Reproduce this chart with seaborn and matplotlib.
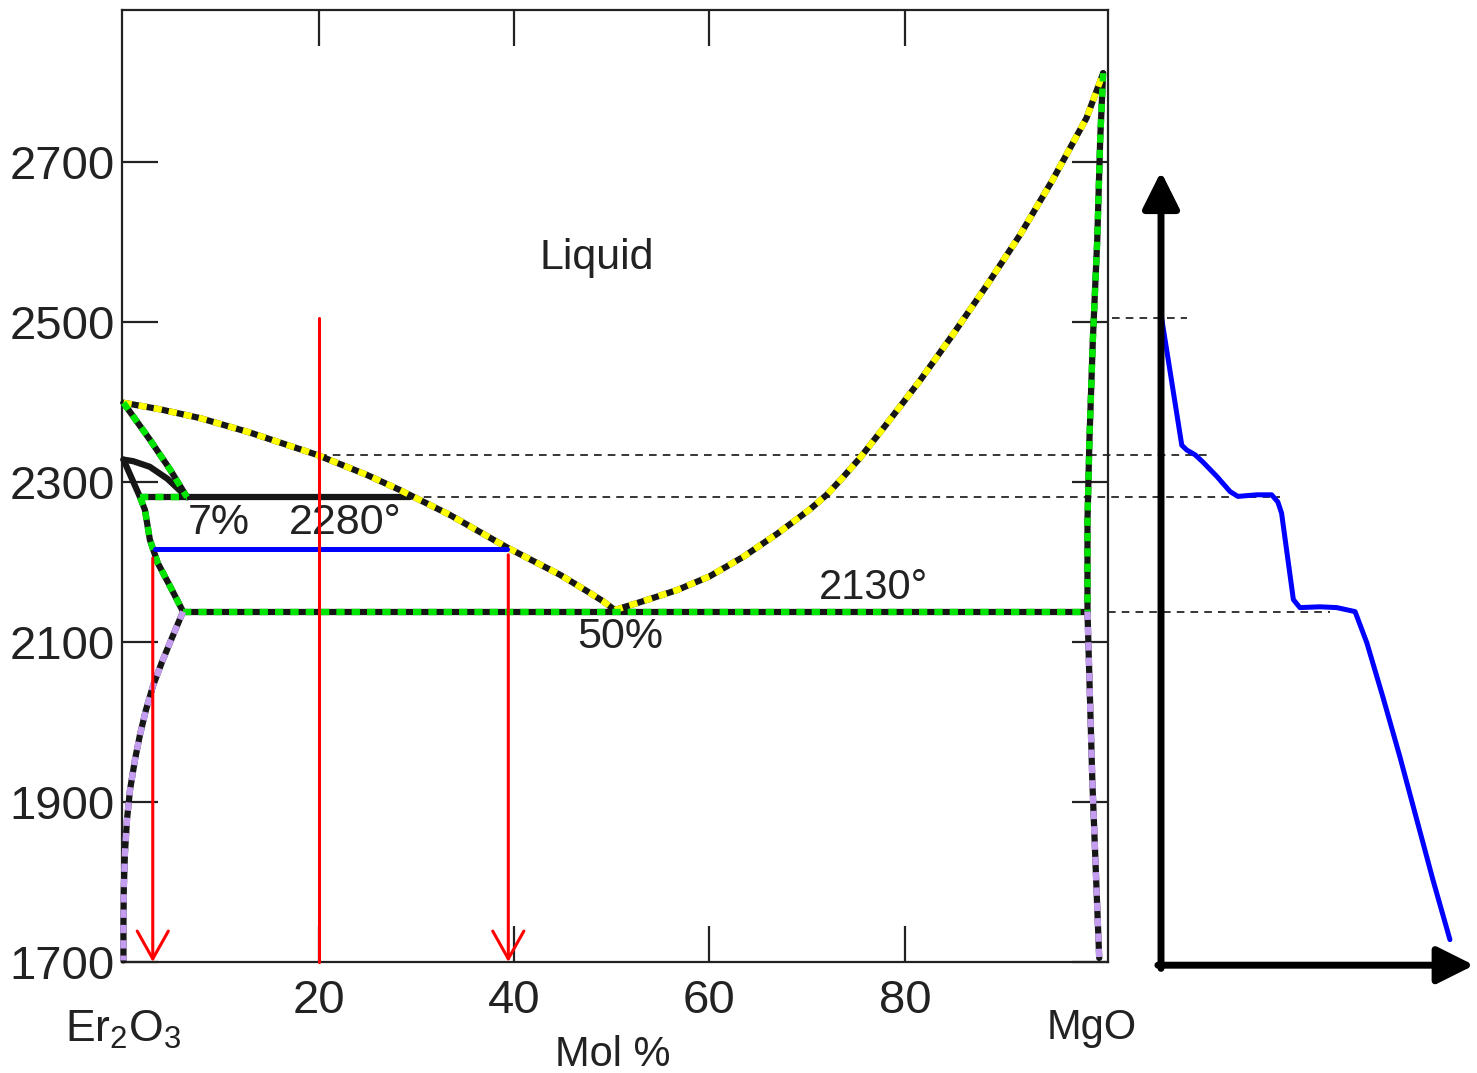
import numpy as np
import matplotlib.pyplot as plt
import seaborn as sns

sns.set_theme(style="white")
plt.rcParams['font.family'] = ['Liberation Sans', 'DejaVu Sans']
plt.rcParams['mathtext.default'] = 'regular'

# --- phase boundaries, x = mol % MgO, t = temperature (deg C) ---
liq_left_x = [0.0, 3.7, 7.8, 12.9, 19.8, 24.9, 28.3, 33.4, 39.3, 44.7, 47.4, 49.1, 50.3]
liq_left_t = [2399, 2391, 2380, 2362, 2334, 2309, 2290, 2259, 2218, 2184, 2164, 2151, 2140]
liq_right_x = [50.3, 53.2, 56.7, 60.0, 63.4, 66.9, 70.3, 72.0, 73.6, 75.4, 78.1, 81.5,
               84.9, 88.4, 91.8, 95.1, 98.6, 100.3]
liq_right_t = [2140, 2151, 2165, 2182, 2206, 2235, 2266, 2284, 2305, 2330, 2372, 2426,
               2484, 2546, 2609, 2677, 2755, 2811]
sol_mgo_x = [100.3, 100.0, 99.7, 99.25, 98.9, 98.7, 98.7]
sol_mgo_t = [2811, 2728, 2603, 2478, 2353, 2253, 2138]
solv_mgo_x = [98.7, 99.2, 99.9]
solv_mgo_t = [2138, 1925, 1705]

sol_er_x = [0.0, 2.7, 4.8, 6.5]
sol_er_t = [2399, 2353, 2315, 2281]
lens_x = [0.0, 1.0, 2.7, 4.5, 6.5]
lens_t = [2328, 2326, 2319, 2304, 2281]
trans_x = [0.0, 1.7]
trans_t = [2328, 2281]
solv_er_hi_x = [1.7, 2.2, 2.7, 3.5, 4.8, 6.1]
solv_er_hi_t = [2281, 2265, 2228, 2199, 2169, 2138]
solv_er_lo_x = [6.1, 4.96, 3.94, 3.02, 2.3, 1.69, 1.18, 0.67, 0.36, 0.15, 0.03, 0.0, 0.0]
solv_er_lo_t = [2138, 2105, 2075, 2045, 2015, 1984, 1953, 1915, 1878, 1836, 1790, 1746, 1702]

peritectic_t = 2281
peritectic_x = [1.7, 29.3]
peritectic_green_x = [1.7, 6.5]
eutectic_t = 2138
eutectic_x = [6.1, 98.7]

# lever rule construction
tie_t = 2216
tie_x = [3.2, 39.3]
comp_x = 20.0
comp_t = [2505, 1700]
arrow_x = [3.0, 39.4]
arrow_t0 = [2205, 2209]

# dashed guide lines to the cooling curve
guide_t = [2505, 2334, 2281, 2138]
guide_x0 = [101.2, 20.0, 29.3, 100.8]
guide_x1 = [108.9, 111.2, 118.4, 123.5]

# cooling curve (time in arbitrary units)
cool_time = [0.02, 0.67, 0.83, 1.10, 1.35, 1.80, 2.23, 2.48, 3.09, 3.57, 3.77, 3.89,
             4.27, 4.48, 5.13, 5.67, 6.26, 6.64, 7.16, 7.71, 8.25, 8.77, 9.32]
cool_temp = [2505, 2346, 2340, 2334, 2325, 2307, 2288, 2282, 2284, 2284, 2275, 2261,
             2153, 2143, 2144, 2143, 2138, 2099, 2031, 1956, 1878, 1803, 1728]

BLACK = '#161616'
YELLOW = '#ffff00'
GREEN = '#00e600'
PURPLE = '#c49cf0'
RED = '#ff0000'
BLUE = '#0000ff'
DOT = (0, (1.3, 1.1))


def trace(ax, xs, ys, **kw):
    sns.lineplot(x=xs, y=ys, ax=ax, sort=False, estimator=None, clip_on=False, **kw)


fig = plt.figure(figsize=(14.77, 10.73), dpi=100)
ax = fig.add_axes([122 / 1477, 111 / 1073, 986 / 1477, 952 / 1073])

# black boundary lines
for xs, ys in [(liq_left_x, liq_left_t), (liq_right_x, liq_right_t), (sol_mgo_x, sol_mgo_t),
               (solv_mgo_x, solv_mgo_t), (sol_er_x, sol_er_t), (lens_x, lens_t),
               (trans_x, trans_t), (solv_er_hi_x, solv_er_hi_t), (solv_er_lo_x, solv_er_lo_t),
               (peritectic_x, [peritectic_t] * 2), (eutectic_x, [eutectic_t] * 2)]:
    trace(ax, xs, ys, color=BLACK, lw=4.5, zorder=3)

# coloured dotted overlays
for xs, ys, c in [(liq_left_x, liq_left_t, YELLOW), (liq_right_x, liq_right_t, YELLOW),
                  (sol_mgo_x, sol_mgo_t, GREEN), (sol_er_x, sol_er_t, GREEN),
                  (solv_er_hi_x, solv_er_hi_t, GREEN), (peritectic_green_x, [peritectic_t] * 2, GREEN),
                  (eutectic_x, [eutectic_t] * 2, GREEN),
                  (solv_mgo_x, solv_mgo_t, PURPLE), (solv_er_lo_x, solv_er_lo_t, PURPLE)]:
    trace(ax, xs, ys, color=c, lw=4.6, linestyle=DOT, dash_capstyle='butt', zorder=4)

# dashed guides
for t, x0, x1 in zip(guide_t, guide_x0, guide_x1):
    trace(ax, [x0, x1], [t, t], color='black', lw=1.1, linestyle=(0, (5, 4)), zorder=2)

# tie line and composition lines
trace(ax, tie_x, [tie_t] * 2, color=BLUE, lw=3.6, zorder=5)
trace(ax, [comp_x, comp_x], comp_t, color=RED, lw=2.2, zorder=6)
for x, t0 in zip(arrow_x, arrow_t0):
    ax.annotate('', xy=(x, 1700), xytext=(x, t0), annotation_clip=False, zorder=6,
                arrowprops=dict(arrowstyle='->,head_length=0.5,head_width=0.28', color=RED,
                                lw=2.2, mutation_scale=40, shrinkA=0, shrinkB=0))

ax.set_xlim(-0.15, 100.8)
ax.set_ylim(1700, 2890)
ax.set_xticks([20, 40, 60, 80])
ax.set_yticks([1700, 1900, 2100, 2300, 2500, 2700])
ax.tick_params(direction='in', length=26, width=1.6, color='#222222', labelsize=34,
               bottom=True, left=True, top=True, right=True, labelcolor='#222222')
ax.tick_params(axis='x', pad=12)
ax.tick_params(axis='y', pad=5)
for s in ax.spines.values():
    s.set_color('#222222')
    s.set_linewidth(1.6)

txt = dict(color='#222222', ha='center', va='center', clip_on=False)
ax.text(48.5, 2580, 'Liquid', fontsize=31, **txt)
ax.text(9.8, 2249, '7%', fontsize=31, **txt)
ax.text(22.7, 2249, '2280°', fontsize=31, **txt)
ax.text(76.8, 2168, '2130°', fontsize=30, **txt)
ax.text(50.9, 2106, '50%', fontsize=31, **txt)
ax.text(0.0, 1615, r'$Er_2O_3$', fontsize=32, **txt)
ax.text(99.1, 1617, 'MgO', fontsize=30, **txt)
ax.text(50.1, 1584, 'Mol %', fontsize=30, **txt)

# cooling curve panel, same temperature scale
ax2 = fig.add_axes([1161 / 1477, 111 / 1073, 310 / 1477, 952 / 1073])
ax2.set_xlim(0, 10)
ax2.set_ylim(1700, 2890)
ax2.axis('off')
trace(ax2, cool_time, cool_temp, color=BLUE, lw=3.6, zorder=3)
head = '-|>,head_length=0.5,head_width=0.25'
ax2.annotate('', xy=(0, 2688), xytext=(0, 1692), annotation_clip=False,
             arrowprops=dict(arrowstyle=head, color='black', lw=5, mutation_scale=45,
                             shrinkA=0, shrinkB=0))
ax2.annotate('', xy=(10.1, 1696), xytext=(-0.1, 1696), annotation_clip=False,
             arrowprops=dict(arrowstyle=head, color='black', lw=5, mutation_scale=45,
                             shrinkA=0, shrinkB=0))

fig.savefig('out.png', dpi=100)
